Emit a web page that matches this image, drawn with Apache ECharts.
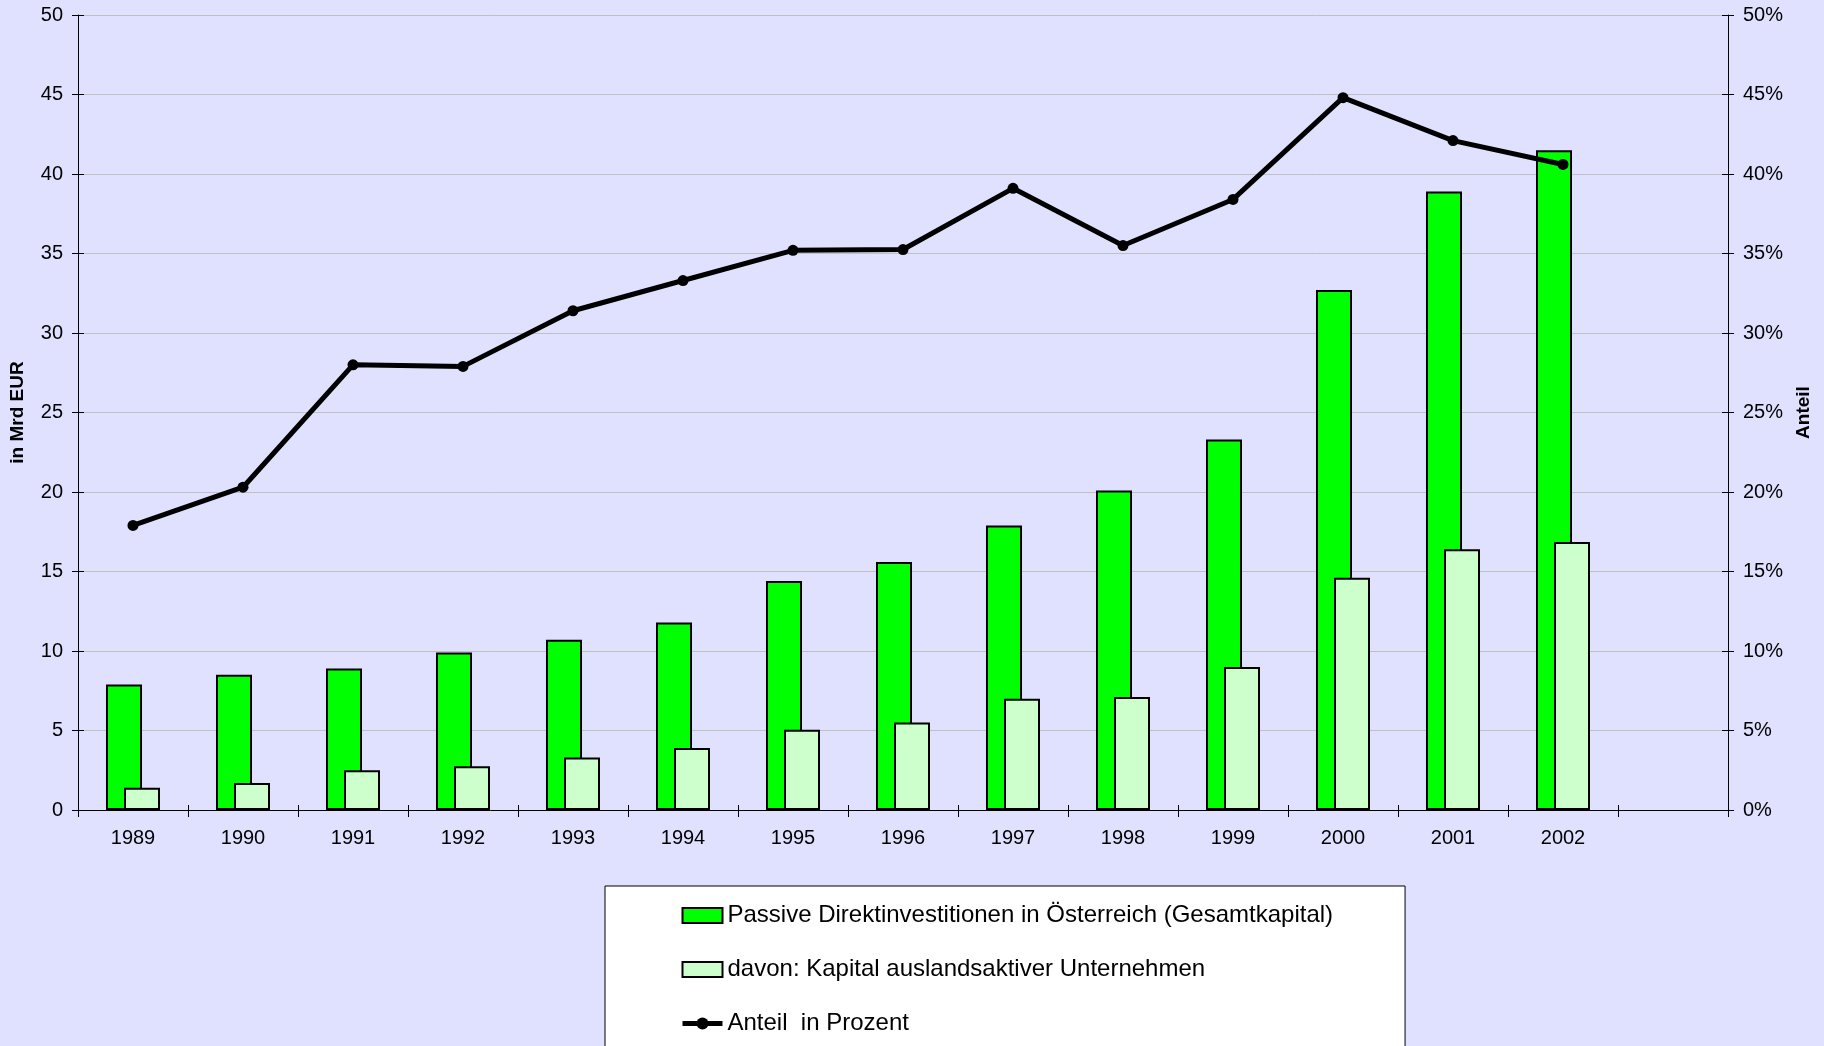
<!DOCTYPE html>
<html>
<head>
<meta charset="utf-8">
<script src="https://cdn.jsdelivr.net/npm/echarts@6/dist/echarts.min.js"></script>
<style>
  html, body { margin: 0; padding: 0; background: #E0E0FF; }
  #main { width: 1824px; height: 1046px; }
</style>
</head>
<body>
<div id="main"></div>
<script>
// Jahre (letzte Kategorie bleibt leer)
var years = ['1989', '1990', '1991', '1992', '1993', '1994', '1995', '1996',
             '1997', '1998', '1999', '2000', '2001', '2002', ''];

// in Mrd EUR
var gesamt = [7.9, 8.5, 8.9, 9.9, 10.7, 11.8, 14.4, 15.6, 17.9, 20.1, 23.3, 32.7, 38.9, 41.5];
var auslandsaktiv = [1.4, 1.7, 2.5, 2.75, 3.3, 3.9, 5.05, 5.5, 7.0, 7.1, 9.0, 14.6, 16.4, 16.85];

// Anteil in Prozent
var anteil = [17.9, 20.3, 28.0, 27.9, 31.4, 33.3, 35.2, 35.25, 39.1, 35.5, 38.4, 44.8, 42.1, 40.6];

var names = [
    'Passive Direktinvestitionen in Österreich (Gesamtkapital)',
    'davon: Kapital auslandsaktiver Unternehmen',
    'Anteil  in Prozent'
];

var font = '"Liberation Sans", Arial, sans-serif';
var chart = echarts.init(document.getElementById('main'));

var option = {
    backgroundColor: '#E0E0FF',
    animation: false,
    textStyle: {fontFamily: font, color: '#000'},
    grid: {left: 77, right: 96, top: 15, bottom: 236},
    legend: {
        orient: 'vertical',
        left: 605,
        top: 886,
        height: 300,
        data: [
            {name: names[0], icon: 'rect'},
            {name: names[1], icon: 'rect'},
            {name: names[2], lineStyle: {width: 5, color: '#000'}}
        ],
        backgroundColor: '#fff',
        borderColor: '#000',
        borderWidth: 1,
        padding: [17, 72, 40, 75],
        itemGap: 29,
        itemWidth: 40,
        itemHeight: 15,
        textStyle: {fontFamily: font, fontSize: 24, lineHeight: 25, color: '#000'}
    },
    xAxis: [
        {
            type: 'category',
            data: years,
            axisLine: {lineStyle: {color: '#000', width: 1}},
            axisTick: {show: true, interval: 0, length: 7, lineStyle: {color: '#000'}},
            axisLabel: {fontFamily: font, fontSize: 20, color: '#000', margin: 18, interval: 0}
        },
        {
            // Gegenstriche (Kreuzmarken)
            type: 'category',
            data: years,
            position: 'bottom',
            axisLine: {show: false},
            axisTick: {show: true, inside: true, interval: 0, length: 5, lineStyle: {color: '#000'}},
            axisLabel: {show: false}
        }
    ],
    yAxis: [
        {
            type: 'value',
            min: 0, max: 50, interval: 5,
            name: 'in Mrd EUR',
            nameLocation: 'middle',
            nameRotate: 90,
            nameGap: 51,
            nameTextStyle: {fontFamily: font, fontSize: 19, fontWeight: 'bold', color: '#000'},
            axisLine: {show: true, lineStyle: {color: '#000'}},
            axisTick: {show: true, length: 6, lineStyle: {color: '#000'}},
            axisLabel: {fontFamily: font, fontSize: 20, color: '#000', margin: 15},
            splitLine: {show: true, lineStyle: {color: '#C0C0C0', width: 1}}
        },
        {
            type: 'value',
            position: 'right',
            min: 0, max: 50, interval: 5,
            name: 'Anteil',
            nameLocation: 'middle',
            nameRotate: 90,
            nameGap: 66,
            nameTextStyle: {fontFamily: font, fontSize: 19, fontWeight: 'bold', color: '#000'},
            axisLine: {show: true, lineStyle: {color: '#000'}},
            axisTick: {show: true, length: 6, lineStyle: {color: '#000'}},
            axisLabel: {fontFamily: font, fontSize: 20, color: '#000', margin: 15, formatter: '{value}%'},
            splitLine: {show: false}
        },
        {
            type: 'value',
            position: 'left',
            min: 0, max: 50, interval: 5,
            axisLine: {show: false},
            axisTick: {show: true, inside: true, length: 6, lineStyle: {color: '#000'}},
            axisLabel: {show: false},
            splitLine: {show: false}
        },
        {
            type: 'value',
            position: 'right',
            min: 0, max: 50, interval: 5,
            axisLine: {show: false},
            axisTick: {show: true, inside: true, length: 6, lineStyle: {color: '#000'}},
            axisLabel: {show: false},
            splitLine: {show: false}
        }
    ],
    series: [
        {
            name: names[0],
            type: 'bar',
            data: gesamt,
            barWidth: 36,
            barGap: '-50%',
            itemStyle: {color: '#00FF00', borderColor: '#000', borderWidth: 2}
        },
        {
            name: names[1],
            type: 'bar',
            data: auslandsaktiv,
            barWidth: 36,
            barGap: '-50%',
            itemStyle: {color: '#CCFFCC', borderColor: '#000', borderWidth: 2}
        },
        {
            name: names[2],
            type: 'line',
            yAxisIndex: 1,
            data: anteil,
            symbol: 'circle',
            symbolSize: 11,
            lineStyle: {color: '#000', width: 5},
            itemStyle: {color: '#000'}
        }
    ]
};

chart.setOption(option);
</script>
</body>
</html>
